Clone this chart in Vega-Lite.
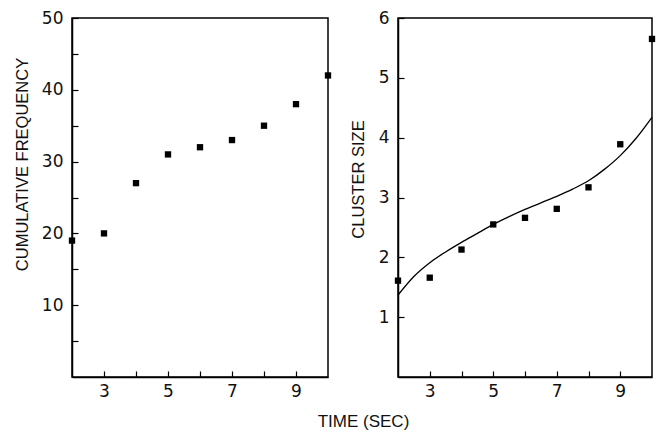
{
  "$schema": "https://vega.github.io/schema/vega-lite/v6.json",
  "background": "white",
  "padding": {"left": 13, "top": 8, "right": 5, "bottom": 5},
  "spacing": 70,
  "bounds": "flush",
  "datasets": {
    "freq": [
      {"time": 2, "freq": 19}, {"time": 3, "freq": 20}, {"time": 4, "freq": 27},
      {"time": 5, "freq": 31}, {"time": 6, "freq": 32}, {"time": 7, "freq": 33},
      {"time": 8, "freq": 35}, {"time": 9, "freq": 38}, {"time": 10, "freq": 42}
    ],
    "cluster": [
      {"time": 2, "size": 1.61}, {"time": 3, "size": 1.66}, {"time": 4, "size": 2.13},
      {"time": 5, "size": 2.55}, {"time": 6, "size": 2.66}, {"time": 7, "size": 2.81},
      {"time": 8, "size": 3.17}, {"time": 9, "size": 3.89}, {"time": 10, "size": 5.65}
    ],
    "fit": [
      {"time": 2, "size": 1.37}, {"time": 2.5, "size": 1.68}, {"time": 3, "size": 1.91},
      {"time": 3.5, "size": 2.09}, {"time": 4, "size": 2.25}, {"time": 4.5, "size": 2.40},
      {"time": 5, "size": 2.55}, {"time": 5.5, "size": 2.68}, {"time": 6, "size": 2.80},
      {"time": 6.5, "size": 2.91}, {"time": 7, "size": 3.02}, {"time": 7.5, "size": 3.14},
      {"time": 8, "size": 3.28}, {"time": 8.5, "size": 3.47}, {"time": 9, "size": 3.70},
      {"time": 9.5, "size": 3.99}, {"time": 10, "size": 4.34}
    ]
  },
  "config": {
    "view": {"stroke": "black", "strokeWidth": 1.5},
    "axis": {
      "grid": false,
      "domainColor": "black",
      "domainWidth": 1.5,
      "tickColor": "black",
      "tickWidth": 1.2,
      "tickSize": -6,
      "labelPadding": 15,
      "labelFont": "DejaVu Sans",
      "labelFontSize": 17,
      "labelColor": "#111",
      "titleFont": "Liberation Sans",
      "titleFontSize": 16.5,
      "titleFontWeight": "normal",
      "titleColor": "#111"
    },
    "axisX": {"labelPadding": 12}
  },
  "hconcat": [
    {
      "width": 256,
      "height": 359,
      "data": {"name": "freq"},
      "mark": {"type": "point", "shape": "square", "filled": true, "size": 40, "color": "black", "opacity": 1},
      "encoding": {
        "x": {
          "field": "time", "type": "quantitative",
          "scale": {"domain": [2, 10], "nice": false},
          "axis": {
            "values": [3, 4, 5, 6, 7, 8, 9],
            "labelExpr": "datum.value % 2 == 1 ? datum.label : ''",
            "title": "TIME (SEC)",
            "titleFontSize": 17,
            "titleX": 291,
            "titlePadding": 14
          }
        },
        "y": {
          "field": "freq", "type": "quantitative",
          "scale": {"domain": [0, 50], "nice": false},
          "axis": {
            "values": [5, 10, 15, 20, 25, 30, 35, 40, 45, 50],
            "labelExpr": "datum.value % 10 == 0 ? datum.label : ''",
            "title": "CUMULATIVE FREQUENCY",
            "titleY": 146,
            "titlePadding": 11
          }
        }
      }
    },
    {
      "width": 254,
      "height": 359,
      "encoding": {
        "x": {
          "field": "time", "type": "quantitative",
          "scale": {"domain": [2, 10], "nice": false},
          "axis": {
            "values": [3, 4, 5, 6, 7, 8, 9],
            "labelExpr": "datum.value % 2 == 1 ? datum.label : ''",
            "title": null
          }
        },
        "y": {
          "field": "size", "type": "quantitative",
          "scale": {"domain": [0, 6], "nice": false},
          "axis": {
            "values": [1, 2, 3, 4, 5, 6],
            "title": "CLUSTER SIZE",
            "titleY": 161,
            "titlePadding": 12
          }
        }
      },
      "layer": [
        {
          "data": {"name": "fit"},
          "mark": {"type": "line", "interpolate": "monotone", "color": "black", "strokeWidth": 1.3}
        },
        {
          "data": {"name": "cluster"},
          "mark": {"type": "point", "shape": "square", "filled": true, "size": 40, "color": "black", "opacity": 1}
        }
      ]
    }
  ]
}
